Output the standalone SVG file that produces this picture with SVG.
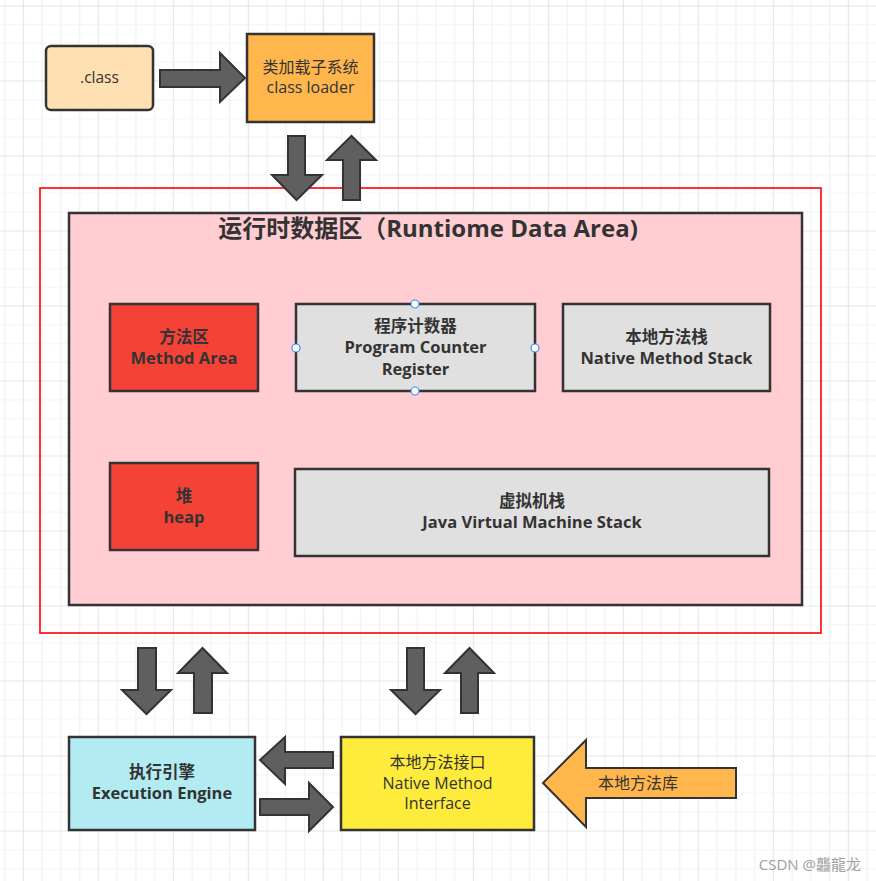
<svg xmlns="http://www.w3.org/2000/svg" width="876" height="881" viewBox="0 0 876 881">
<defs>
<pattern id="grid" patternUnits="userSpaceOnUse" x="22.8" y="5.5" width="75" height="75">
<rect width="75" height="75" fill="#ffffff"/>
<path d="M19.25 0V75M38 0V75M56.75 0V75M0 19.25H75M0 38H75M0 56.75H75" stroke="#f1f1f1" stroke-width="1.2" fill="none"/>
<path d="M0.5 0V75M0 0.5H75" stroke="#e4e4e4" stroke-width="1.2" fill="none"/>
</pattern>
<style>
.box{stroke:#333333;stroke-width:2.5}
.arr{fill:#5f5f5f;stroke:#333333;stroke-width:2;stroke-linejoin:miter}
.t{font-family:"Open Sans","Noto Sans CJK SC","Microsoft YaHei",sans-serif;font-size:16px;fill:#333333;text-anchor:middle}
.b{font-weight:bold;font-size:16.5px}
.h{fill:#ffffff;stroke:#3d8bfd;stroke-width:1.2}
</style>
</defs>
<rect width="876" height="881" fill="url(#grid)"/>

<rect x="40" y="188" width="781" height="445" fill="none" stroke="#ff0000" stroke-width="1.6"/>

<g id="runtime-data-area">
<rect class="box" x="69" y="213" width="733" height="392" fill="#ffcdd2"/>
<text class="t b" x="428" y="237" style="font-size:24px">运行时数据区（Runtiome Data Area)</text>
</g>

<g id="class-file">
<rect class="box" x="46" y="46" width="107" height="64" rx="5" fill="#ffe0b2"/>
<text class="t" x="99.5" y="83" style="font-size:15.5px">.class</text>
</g>

<g id="class-loader">
<rect class="box" x="247" y="34" width="127" height="88" fill="#ffb74d"/>
<text class="t" x="310.5" y="73">类加载子系统</text>
<text class="t" x="310.5" y="93">class loader</text>
</g>

<g id="method-area">
<rect class="box" x="110" y="304" width="148" height="87" fill="#f44336"/>
<text class="t b" x="184" y="343">方法区</text>
<text class="t b" x="184" y="364">Method Area</text>
</g>

<g id="program-counter">
<rect class="box" x="296" y="304" width="239" height="87" fill="#e0e0e0"/>
<text class="t b" x="415.5" y="332">程序计数器</text>
<text class="t b" x="415.5" y="353">Program Counter</text>
<text class="t b" x="415.5" y="374.5">Register</text>
<circle class="h" cx="415" cy="304" r="4"/>
<circle class="h" cx="296" cy="348" r="4"/>
<circle class="h" cx="535" cy="348" r="4"/>
<circle class="h" cx="415" cy="391" r="4"/>
</g>

<g id="native-method-stack">
<rect class="box" x="563" y="304" width="207" height="87" fill="#e0e0e0"/>
<text class="t b" x="666.5" y="343">本地方法栈</text>
<text class="t b" x="666.5" y="364">Native Method Stack</text>
</g>

<g id="heap">
<rect class="box" x="110" y="463" width="148" height="87" fill="#f44336"/>
<text class="t b" x="184" y="502">堆</text>
<text class="t b" x="184" y="523">heap</text>
</g>

<g id="jvm-stack">
<rect class="box" x="295" y="469" width="474" height="87" fill="#e0e0e0"/>
<text class="t b" x="532" y="507">虚拟机栈</text>
<text class="t b" x="532" y="528">Java Virtual Machine Stack</text>
</g>

<g id="execution-engine">
<rect class="box" x="69" y="737" width="186" height="93" fill="#b2ebf2"/>
<text class="t b" x="162" y="778">执行引擎</text>
<text class="t b" x="162" y="799">Execution Engine</text>
</g>

<g id="native-method-interface">
<rect class="box" x="341" y="737" width="193" height="93" fill="#ffeb3b"/>
<text class="t" x="437.5" y="768">本地方法接口</text>
<text class="t" x="437.5" y="789">Native Method</text>
<text class="t" x="437.5" y="809">Interface</text>
</g>

<g id="native-library">
<polygon points="736,768 586,768 586,740 543,783 586,827 586,798 736,798" fill="#ffb74d" stroke="#333333" stroke-width="2"/>
<text class="t" x="638" y="789">本地方法库</text>
</g>

<g id="connectors">
<polygon class="arr" points="160,70 220,70 220,53 245,78 220,102 220,87 160,87"/>
<polygon class="arr" points="288,136 305,136 305,175 322,175 296.5,200 272,175 288,175"/>
<polygon class="arr" points="343,200 360,200 360,160 376,160 351.5,136 327,160 343,160"/>
<polygon class="arr" points="138,648 156,648 156,690 171,690 146.5,714 122,690 138,690"/>
<polygon class="arr" points="194,713 212,713 212,673 227,673 202.5,648 178,673 194,673"/>
<polygon class="arr" points="407,648 424,648 424,690 440,690 415.5,714 391,690 407,690"/>
<polygon class="arr" points="461,713 478,713 478,673 494,673 469.5,648 445,673 461,673"/>
<polygon class="arr" points="333,752 285,752 285,737 260,760 285,784 285,768 333,768"/>
<polygon class="arr" points="260,799 309,799 309,783 333,807 309,831 309,815 260,815"/>
</g>

<text x="861" y="870" style="font-family:'Open Sans','Noto Sans CJK SC',sans-serif;font-size:15px;fill:#a0a0a0;text-anchor:end">CSDN @龘龍龙</text>
</svg>
